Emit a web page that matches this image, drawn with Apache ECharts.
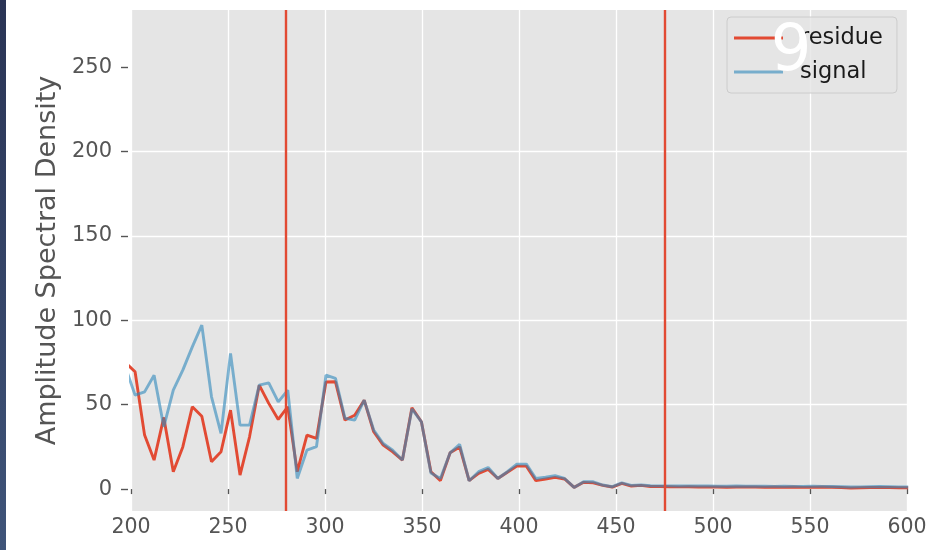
<!DOCTYPE html>
<html>
<head>
<meta charset="utf-8">
<script src="https://cdn.jsdelivr.net/npm/echarts@6/dist/echarts.min.js"></script>
<style>
  html, body { margin: 0; padding: 0; background: #ffffff; }
  #chart { width: 933px; height: 550px; }
</style>
</head>
<body>
<div id="chart"></div>
<script>
// Frequency bins (Hz)
const freq = [
  197.2, 202.1, 207.0, 211.9, 216.9, 221.8, 226.7, 231.6, 236.5, 241.5,
  246.4, 251.3, 256.2, 261.1, 266.1, 271.0, 275.9, 280.8, 285.7, 290.7,
  295.6, 300.5, 305.4, 310.3, 315.3, 320.2, 325.1, 330.0, 334.9, 339.9,
  344.8, 349.7, 354.6, 359.5, 364.5, 369.4, 374.3, 379.2, 384.1, 389.1,
  394.0, 398.9, 403.8, 408.7, 413.7, 418.6, 423.5, 428.4, 433.3, 438.3,
  443.2, 448.1, 453.0, 457.9, 462.9, 467.8, 472.7, 477.6, 482.5, 487.5,
  492.4, 497.3, 502.2, 507.1, 512.1, 517.0, 521.9, 526.8, 531.7, 536.7,
  541.6, 546.5, 551.4, 556.3, 561.3, 566.2, 571.1, 576.0, 580.9, 585.9,
  590.8, 595.7, 600.6
];

// Amplitude spectral density of the residue
const residue = [
  75.0, 69.5, 32.0, 17.2, 42.5, 10.3, 25.0, 48.8, 43.2, 16.2,
  22.1, 46.8, 8.3, 31.0, 61.6, 50.8, 41.3, 48.8, 10.3, 32.0,
  30.0, 63.5, 63.6, 40.9, 43.8, 52.7, 34.0, 26.1, 22.1, 17.2,
  48.2, 39.9, 10.3, 5.0, 21.5, 25.0, 5.0, 9.3, 11.7, 6.3,
  10.0, 13.6, 13.6, 5.0, 6.0, 6.9, 6.0, 1.0, 4.0, 3.7,
  2.2, 1.2, 3.4, 1.8, 2.2, 1.5, 1.5, 1.4, 1.3, 1.4,
  1.2, 1.3, 1.2, 1.1, 1.2, 1.3, 1.2, 1.1, 1.2, 1.1,
  1.2, 1.0, 1.1, 1.2, 1.1, 0.9, 0.6, 0.8, 0.9, 1.0,
  0.9, 0.8, 0.8
];

// Amplitude spectral density of the signal
const signal = [
  72.0, 55.7, 57.6, 67.5, 36.9, 58.6, 70.5, 84.3, 97.2, 54.7,
  33.0, 80.4, 37.9, 37.9, 61.6, 63.0, 51.7, 58.6, 6.3, 23.1,
  25.1, 67.5, 65.6, 42.0, 40.9, 52.7, 35.0, 27.0, 23.0, 17.2,
  47.5, 39.9, 9.5, 6.3, 21.5, 26.5, 4.9, 10.3, 12.8, 6.3,
  10.3, 14.8, 14.8, 6.3, 7.0, 8.0, 6.3, 1.0, 4.3, 4.3,
  2.4, 1.4, 3.7, 2.2, 2.4, 2.0, 1.9, 1.9, 1.8, 1.9,
  1.8, 1.8, 1.7, 1.7, 1.8, 1.7, 1.7, 1.7, 1.6, 1.7,
  1.6, 1.6, 1.7, 1.6, 1.5, 1.4, 1.2, 1.3, 1.4, 1.5,
  1.4, 1.3, 1.2
];

// Band edges marked with vertical lines
const bandEdges = [280, 475];

// Axis ticks
const xTicks = [200, 250, 300, 350, 400, 450, 500, 550, 600];
const yTicks = [0, 50, 100, 150, 200, 250];

const FONT = 'DejaVu Sans';
const RED = '#E24A33';
const BLUE = 'rgba(52,138,189,0.62)';

const chart = echarts.init(document.getElementById('chart'), null, { renderer: 'canvas' });

const pairs = (ys) => freq.map((f, i) => [f, ys[i]]);

chart.setOption({
  animation: false,
  backgroundColor: '#ffffff',
  textStyle: { fontFamily: FONT },
  grid: {
    left: 131, right: 26, top: 10, bottom: 39,
    show: true, backgroundColor: '#E5E5E5', borderWidth: 0
  },
  xAxis: {
    type: 'value',
    min: xTicks[0], max: xTicks[xTicks.length - 1], interval: 50,
    axisLine: { show: false },
    axisTick: { show: true, length: 5, lineStyle: { color: '#555555', width: 1.3 } },
    axisLabel: { color: '#555555', fontSize: 20.5, fontFamily: FONT, margin: 6 },
    splitLine: { show: true, lineStyle: { color: '#ffffff', width: 1.3 } }
  },
  yAxis: {
    type: 'value',
    min: -13, max: 284,
    offset: 3,
    name: 'Amplitude Spectral Density',
    nameLocation: 'middle',
    nameGap: 67,
    nameTextStyle: { color: '#555555', fontSize: 27, fontFamily: FONT },
    axisLine: { show: false },
    axisTick: { show: true, length: 7, customValues: yTicks, lineStyle: { color: '#555555', width: 1.4 } },
    axisLabel: { color: '#555555', fontSize: 21, fontFamily: FONT, margin: 16, customValues: yTicks },
    splitLine: { show: true, showMinLine: false, showMaxLine: false, lineStyle: { color: '#ffffff', width: 1.3 } }
  },
  legend: {
    data: ['residue', 'signal'],
    orient: 'vertical',
    left: 727, top: 17,
    padding: [8, 14, 8, 7],
    itemGap: 8,
    itemWidth: 49, itemHeight: 3,
    icon: 'rect',
    backgroundColor: 'rgba(229,229,229,0.8)',
    borderColor: '#cccccc', borderWidth: 1, borderRadius: 4,
    textStyle: {
      color: '#1a1a1a', fontSize: 22.5, fontFamily: FONT, lineHeight: 26,
      padding: [0, 0, 0, 12]
    }
  },
  series: [
    {
      name: 'residue', type: 'line', data: pairs(residue),
      showSymbol: false, symbol: 'none', color: RED,
      lineStyle: { color: RED, width: 2.9 }, z: 2
    },
    {
      name: 'signal', type: 'line', data: pairs(signal),
      showSymbol: false, symbol: 'none', color: BLUE,
      lineStyle: { color: BLUE, width: 2.9 }, z: 3
    },
    {
      name: 'edges', type: 'line', data: [], z: 4,
      markLine: {
        silent: true, symbol: 'none', animation: false,
        label: { show: false },
        lineStyle: { color: RED, width: 2.4, type: 'solid' },
        data: bandEdges.map(v => ({ xAxis: v }))
      }
    }
  ],
  graphic: [
    {
      type: 'rect', left: 0, top: 0, z: 10,
      shape: { width: 6, height: 550 },
      style: {
        fill: new echarts.graphic.LinearGradient(0, 0, 0, 1, [
          { offset: 0, color: '#2a3455' },
          { offset: 1, color: '#3f5479' }
        ])
      }
    },
    {
      type: 'text', x: 791, y: 53, z: 100,
      style: {
        text: '9', fill: '#ffffff', fontSize: 64, fontFamily: FONT,
        align: 'center', verticalAlign: 'middle'
      }
    }
  ]
});
</script>
</body>
</html>
